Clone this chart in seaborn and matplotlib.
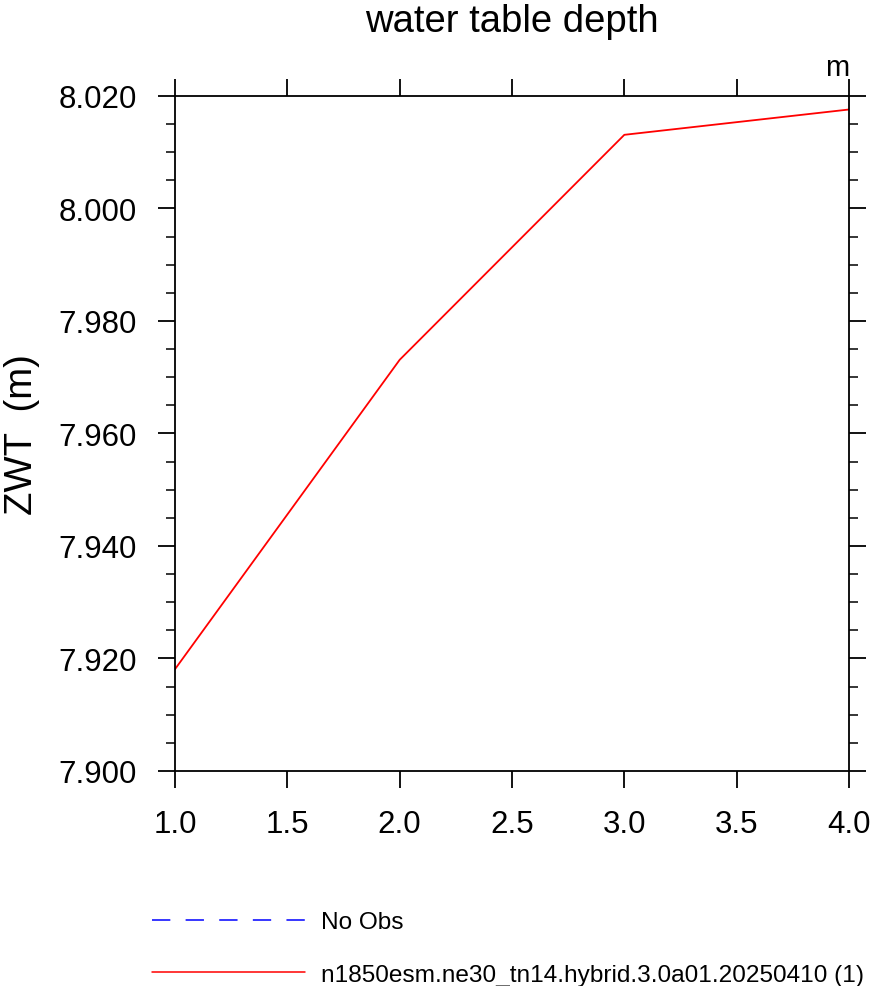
import numpy as np
import pandas as pd
import matplotlib
matplotlib.use("Agg")
import matplotlib.pyplot as plt
import seaborn as sns
from matplotlib.lines import Line2D
from matplotlib.ticker import MultipleLocator, FormatStrFormatter

# data
years  = [1, 2, 3, 4]
zwt    = [7.9181, 7.9731, 8.0131, 8.0176]
case   = "n1850esm.ne30_tn14.hybrid.3.0a01.20250410 (1)"
yticks = [7.900, 7.920, 7.940, 7.960, 7.980, 8.000, 8.020]
xticks = [1.0, 1.5, 2.0, 2.5, 3.0, 3.5, 4.0]

sns.set_style("ticks")
plt.rcParams['font.family'] = ['Liberation Sans', 'DejaVu Sans']
plt.rcParams.update({"text.color": "black", "axes.labelcolor": "black",
                     "axes.edgecolor": "black", "xtick.color": "black",
                     "ytick.color": "black"})

df = pd.DataFrame({"year": years, "zwt": zwt})

fig = plt.figure(figsize=(8.71, 9.87), dpi=100)
ax = fig.add_axes([175/871, 1 - 772/987, (849-175)/871, (772-97)/987])

sns.lineplot(data=df, x="year", y="zwt", color="red", linewidth=1.3, ax=ax)

ax.set_xlim(1.0, 4.0)
ax.set_ylim(7.900, 8.020)
ax.set_xticks(xticks)
ax.set_yticks(yticks)
ax.yaxis.set_minor_locator(MultipleLocator(0.005))
ax.xaxis.set_major_formatter(FormatStrFormatter("%.1f"))
ax.yaxis.set_major_formatter(FormatStrFormatter("%.3f"))
ax.tick_params(axis="both", which="major", direction="out", length=12.5, width=1.3,
               labelsize=22.5, pad=15, top=True, right=True)
ax.tick_params(axis="y", which="minor", direction="out", length=6.5, width=1.1,
               left=True, right=True)
for s in ax.spines.values():
    s.set_visible(True)
    s.set_linewidth(1.3)
    s.set_color("black")

ax.set_xlabel("")
ax.set_ylabel("ZWT  (m)", fontsize=27.5, labelpad=13)
ax.set_title("water table depth", fontsize=27.5, pad=47)
ax.text(1.0, 1.022, "m", transform=ax.transAxes, ha="right", va="bottom", fontsize=21)

handles = [Line2D([], [], color="blue", linewidth=1.1, linestyle=(0, (12, 10))),
           Line2D([], [], color="red", linewidth=1.1)]
fig.legend(handles, ["No Obs", case], loc="upper left",
           bbox_to_anchor=(152/871, 1 - 912/987), frameon=False, fontsize=17.6,
           handlelength=6.27, handletextpad=0.66, labelspacing=1.26,
           borderpad=0, borderaxespad=0)

fig.savefig("out.png", dpi=100)
